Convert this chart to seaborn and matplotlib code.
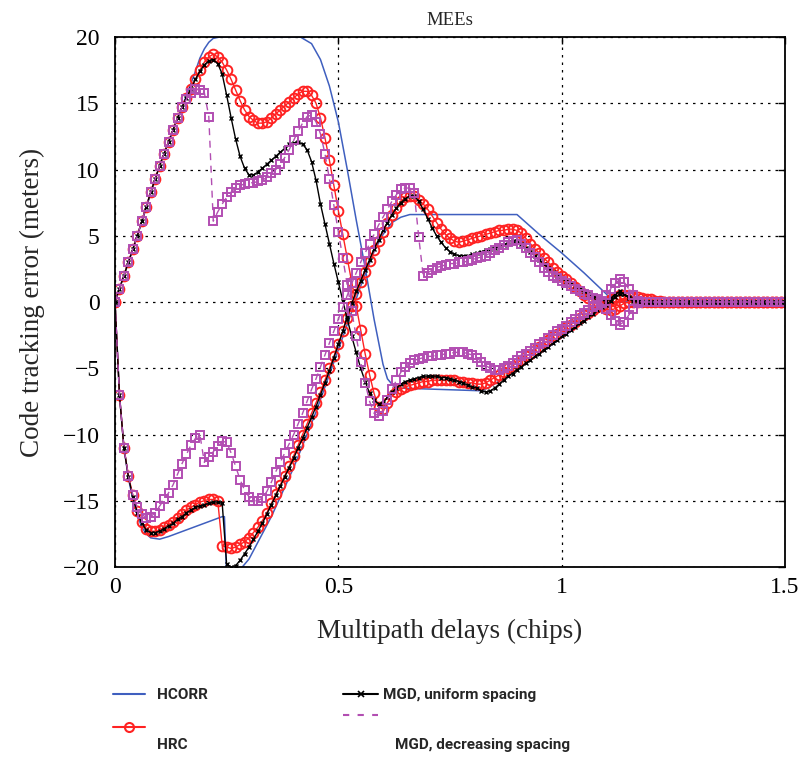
import matplotlib
matplotlib.use("Agg")
import matplotlib.pyplot as plt
from matplotlib.lines import Line2D
from matplotlib import font_manager
import seaborn as sns

# ---------------- data ----------------
delays = [round(0.01 * i, 2) for i in range(151)]          # 0.00 ... 1.50 chips
tail_zero = [0.0, 0.0, 0.0, 0.0, 0.0, 0.0, 0.0, 0.0, 0.0, 0.0, 0.0, 0.0, 0.0,
             0.0, 0.0, 0.0, 0.0, 0.0, 0.0, 0.0, 0.0, 0.0, 0.0, 0.0, 0.0]   # 1.26 ... 1.50

# HRC (red circles)
hrc_pos = [0, 1.0, 2.0, 3.0, 4.0, 5.0, 6.1, 7.2, 8.3, 9.3, 10.3, 11.2, 12.1, 13.0, 13.9, 14.7, 15.4,
           16.1, 16.8, 17.5, 18.1, 18.5, 18.7, 18.5, 18.1, 17.5, 16.8, 16.0, 15.2, 14.5,
           14.0, 13.7, 13.5, 13.5, 13.6, 13.9, 14.2, 14.5, 14.8, 15.1, 15.4, 15.7, 15.9, 15.9,
           15.6, 15.0, 13.9, 12.4, 10.7, 8.8, 6.9, 5.1, 3.3, 1.5, -0.3, -2.1, -3.9, -5.5, -6.9, -7.9, -8.1,
           -7.6, -7.1, -6.8, -6.6, -6.4, -6.3, -6.2, -6.1, -6.0, -6.0, -5.9, -5.9, -5.9, -5.9, -5.9, -5.9,
           -6.0, -6.0, -6.1, -6.1, -6.2, -6.2, -6.1, -5.9, -5.7, -5.5, -5.3, -5.0,
           -4.8, -4.6, -4.4, -4.1, -3.9, -3.6, -3.4, -3.1, -2.9, -2.6, -2.4, -2.2, -1.9, -1.7, -1.5, -1.2,
           -1.0, -0.8, -0.6, -0.4, -0.2, 0.0, 0.2, 0.4, 0.5, 0.5, 0.5, 0.4, 0.4, 0.3, 0.2, 0.2, 0.1, 0.1,
           0.0, 0.0, 0.0]
hrc_neg = [0, -7.0, -11.0, -13.1, -14.6, -15.8, -16.6, -17.1, -17.3, -17.3, -17.2, -17.0, -16.8, -16.6, -16.3, -16.0, -15.7,
           -15.5, -15.3, -15.1, -15.0, -14.9, -14.9, -15.0, -18.4, -18.5, -18.6, -18.5, -18.3, -18.1,
           -17.8, -17.4, -17.0, -16.5, -15.9, -15.2, -14.5, -13.8, -13.1, -12.4, -11.6, -10.8, -10.0, -9.2,
           -8.4, -7.6, -6.8, -5.9, -5.0, -4.1, -3.2, -2.2, -1.2, -0.3, 0.6, 1.5, 2.3, 3.1, 3.9, 4.6, 5.3,
           6.0, 6.6, 7.1, 7.6, 7.9, 8.0, 8.0, 7.7, 7.4, 7.0, 6.5, 6.0, 5.5, 5.1, 4.8, 4.6, 4.5, 4.6, 4.7, 4.8,
           4.9, 5.0, 5.1, 5.2, 5.3, 5.4, 5.4, 5.5,
           5.5, 5.4, 5.2, 4.8, 4.4, 4.0, 3.7, 3.3, 3.0, 2.6, 2.3, 2.0, 1.7, 1.4, 1.1, 0.8, 0.5, 0.3, 0.1,
           -0.1, -0.3, -0.5, -0.6, -0.5, -0.3, -0.1, 0.0, 0.0, 0.0, 0.0, 0.0, 0.0, 0.0, 0.0, 0.0, 0.0, 0.0]

# MGD, uniform spacing (black x)
mgdu_pos = [0, 1.0, 2.0, 3.0, 4.0, 5.0, 6.1, 7.2, 8.3, 9.3, 10.3, 11.2, 12.1, 13.0, 13.9, 14.7, 15.4,
            16.1, 16.8, 17.4, 17.9, 18.2, 18.3, 18.0, 17.2, 15.6, 13.9, 12.3, 11.0, 10.1,
            9.6, 9.6, 9.8, 10.1, 10.4, 10.7, 11.0, 11.3, 11.6, 11.9, 12.0, 12.1, 11.9, 11.5,
            10.6, 9.2, 7.4, 5.9, 4.4, 2.9, 1.5, 0.1, -1.3, -2.6, -3.8, -5.0, -6.0, -6.9, -7.4, -7.7, -7.6,
            -7.2, -6.8, -6.5, -6.2, -6.0, -5.9, -5.8, -5.7, -5.6, -5.6, -5.6, -5.6, -5.7, -5.7, -5.8, -5.9,
            -6.0, -6.1, -6.3, -6.4, -6.5, -6.7, -6.8, -6.7, -6.5, -6.2, -5.9, -5.6,
            -5.4, -5.1, -4.9, -4.6, -4.4, -4.1, -3.9, -3.6, -3.4, -3.1, -2.9, -2.6, -2.4, -2.1, -1.9, -1.6,
            -1.4, -1.1, -0.9, -0.6, -0.4, -0.2, 0.1, 0.4, 0.6, 0.6, 0.4, 0.2, 0.1,
            0.0, 0.0, 0.0, 0.0, 0.0, 0.0, 0.0, 0.0]
mgdu_neg = [0, -7.0, -11.0, -13.2, -14.7, -15.9, -16.7, -17.2, -17.4, -17.4, -17.3, -17.1, -16.9, -16.7, -16.4, -16.2, -15.9,
            -15.7, -15.5, -15.4, -15.3, -15.2, -15.1, -15.1, -15.2, -19.8, -20.0, -19.9, -19.5, -19.0,
            -18.5, -17.9, -17.3, -16.7, -16.0, -15.3, -14.6, -13.9, -13.2, -12.5, -11.8, -11.0, -10.3, -9.5,
            -8.7, -7.9, -7.0, -6.1, -5.2, -4.2, -3.2, -2.2, -1.1, -0.1, 0.8, 1.6, 2.4, 3.2, 4.0, 4.7, 5.4,
            6.0, 6.6, 7.1, 7.5, 7.8, 8.0, 8.0, 7.6, 7.0, 6.3, 5.6, 5.0, 4.5, 4.1, 3.8, 3.6, 3.5, 3.5, 3.5, 3.6,
            3.7, 3.8, 3.9, 4.0, 4.1, 4.2, 4.3, 4.5,
            4.6, 4.6, 4.4, 4.1, 3.8, 3.5, 3.2, 2.9, 2.6, 2.3, 2.0, 1.8, 1.6, 1.4, 1.2, 1.0, 0.8, 0.6, 0.4,
            0.3, 0.2, 0.1, 0.3, 0.6, 0.8, 0.6, 0.3, 0.1, 0.0, 0.0, 0.0, 0.0, 0.0, 0.0, 0.0, 0.0, 0.0]

# MGD, decreasing spacing (purple squares)
mgdd_pos = [0, 1.0, 2.0, 3.0, 4.0, 5.0, 6.1, 7.2, 8.3, 9.3, 10.3, 11.2, 12.1, 13.0, 13.9, 14.7, 15.3,
            15.8, 16.1, 16.0, 15.8, 14.0, 6.1, 6.8, 7.4, 7.9, 8.3, 8.6, 8.8, 8.9,
            9.0, 9.0, 9.1, 9.2, 9.4, 9.7, 10.0, 10.4, 10.9, 11.5, 12.2, 12.9, 13.5, 14.0,
            14.1, 13.6, 12.7, 11.2, 9.3, 7.3, 5.3, 3.3, 1.3, -0.7, -2.6, -4.5, -6.1, -7.5, -8.4, -8.6, -8.2,
            -7.4, -6.6, -5.9, -5.3, -4.9, -4.6, -4.4, -4.3, -4.2, -4.1, -4.1, -4.0, -4.0, -3.9, -3.9, -3.8,
            -3.8, -3.8, -3.9, -4.0, -4.2, -4.5, -4.8, -5.0, -5.1, -5.1, -5.0, -4.8,
            -4.6, -4.4, -4.1, -3.9, -3.7, -3.5, -3.2, -3.0, -2.7, -2.5, -2.2, -2.0, -1.8, -1.5, -1.3, -1.0,
            -0.8, -0.6, -0.4, -0.2, -0.1, -0.5, -1.0, -1.4, -1.7, -1.5, -1.0, -0.5, -0.1,
            0.0, 0.0, 0.0, 0.0, 0.0, 0.0, 0.0, 0.0]
mgdd_neg = [0, -7.0, -11.0, -13.1, -14.6, -15.5, -16.0, -16.3, -16.2, -15.9, -15.4, -14.9, -14.4, -13.8, -13.0, -12.2, -11.5,
            -10.8, -10.3, -10.0, -12.1, -11.7, -11.3, -10.9, -10.5, -10.6, -11.4, -12.4, -13.4, -14.2,
            -14.7, -15.0, -15.0, -14.8, -14.3, -13.6, -12.8, -12.1, -11.4, -10.7, -10.0, -9.2, -8.4, -7.5,
            -6.6, -5.8, -4.9, -4.0, -3.1, -2.2, -1.3, -0.4, 0.5, 1.4, 2.2, 3.0, 3.7, 4.4, 5.1, 5.8, 6.4,
            7.0, 7.6, 8.1, 8.5, 8.6, 8.6, 8.2, 4.9, 2.0, 2.2, 2.4, 2.6, 2.7, 2.8, 2.9, 2.9, 3.0, 3.0, 3.1, 3.2,
            3.3, 3.4, 3.5, 3.7, 3.9, 4.1, 4.3, 4.5,
            4.6, 4.7, 4.4, 4.1, 3.7, 3.4, 3.0, 2.6, 2.3, 2.0, 1.8, 1.6, 1.4, 1.2, 1.0, 0.8, 0.6, 0.5, 0.3,
            0.2, 0.1, 0.5, 1.0, 1.4, 1.7, 1.5, 1.0, 0.5, 0.1, 0.0, 0.0, 0.0, 0.0, 0.0, 0.0, 0.0, 0.0]

# HCORR (blue line, own delay grid)
hcorr_x_pos = [0, 0.05, 0.10, 0.15, 0.18, 0.19, 0.20, 0.21, 0.22, 0.235, 0.415, 0.44, 0.46, 0.48, 0.50,
               0.52, 0.54, 0.56, 0.58, 0.60, 0.61, 0.62, 0.64, 0.82, 0.84, 0.90, 0.95, 1.00, 1.05, 1.10,
               1.12, 1.50]
hcorr_pos = [0, 5.0, 10.3, 14.7, 17.4, 18.4, 19.1, 19.6, 19.9, 20.0, 20.0, 19.5, 18.3, 16.3, 13.6,
             10.0, 6.2, 2.6, -1.3, -4.7, -5.8, -6.2, -6.5, -6.7, -6.4, -5.1, -3.9, -2.7, -1.5, -0.3,
             0.0, 0.0]
hcorr_x_neg = [0, 0.01, 0.02, 0.03, 0.04, 0.05, 0.06, 0.07, 0.08, 0.10, 0.12, 0.16, 0.20, 0.24, 0.245,
               0.25, 0.27, 0.30, 0.35, 0.40, 0.45, 0.50, 0.55, 0.58, 0.60, 0.62, 0.64, 0.66, 0.90, 0.95,
               1.00, 1.05, 1.10, 1.115, 1.50]
hcorr_neg = [0, -7.0, -11.0, -13.3, -14.9, -16.1, -17.0, -17.5, -17.8, -17.9, -17.7, -17.2, -16.7, -16.2, -16.2,
             -20.8, -20.6, -19.4, -16.2, -12.5, -8.3, -3.6, 1.2, 3.8, 5.1, 6.0, 6.4, 6.6, 6.6, 5.1,
             3.7, 2.2, 0.6, 0.0, 0.0]

x_ticks = [0, 0.5, 1, 1.5]
x_tick_labels = ["0", "0.5", "1", "1.5"]
y_ticks = [-20, -15, -10, -5, 0, 5, 10, 15, 20]
series_labels = ["HCORR", "HRC", "MGD, uniform spacing", "MGD, decreasing spacing"]

# ---------------- styling ----------------
BLUE = "#3F5FBF"
RED = "#FF2222"
PURPLE = "#B24EB2"

sns.set_style("white")
plt.rcParams["font.family"] = ["Liberation Serif", "DejaVu Serif"]
plt.rcParams["axes.unicode_minus"] = True

names = {f.name for f in font_manager.fontManager.ttflist}
if "Liberation Sans Narrow" in names:
    leg_family, leg_size = "Liberation Sans Narrow", 12.5
elif "Roboto" in names:
    leg_family, leg_size = "Roboto", 11
else:
    leg_family, leg_size = "DejaVu Sans", 9.5
leg_prop = dict(family=leg_family, weight="bold", size=leg_size)

fig = plt.figure(figsize=(8.0, 7.58), dpi=100)
ax = fig.add_axes([115 / 800, 1 - 567 / 758, 670 / 800, 530 / 758])


def draw(xs, ys, **kw):
    n = min(len(xs), len(ys))
    sns.lineplot(x=list(xs[:n]), y=list(ys[:n]), ax=ax, sort=False,
                 estimator=None, legend=False, **kw)


full = lambda head: head + tail_zero

for xs, ys in [(hcorr_x_pos, hcorr_pos), (hcorr_x_neg, hcorr_neg)]:
    draw(xs, ys, color=BLUE, lw=1.1)

red_kw = dict(color=RED, lw=1.0, marker="o", markersize=7, markerfacecolor="none",
              markeredgecolor=RED, markeredgewidth=1.4)
for ys in (hrc_pos, hrc_neg):
    draw(delays, full(ys), **red_kw)

blk_kw = dict(color="black", lw=1.0, marker="x", markersize=3.5,
              markeredgecolor="black", markeredgewidth=1.0)
for ys in (mgdu_pos, mgdu_neg):
    draw(delays, full(ys), **blk_kw)

pur_kw = dict(color=PURPLE, lw=1.0, linestyle=(0, (5, 4)), marker="s", markersize=6,
              markerfacecolor="none", markeredgecolor=PURPLE, markeredgewidth=1.4)
for ys in (mgdd_pos, mgdd_neg):
    draw(delays, full(ys), **pur_kw)

ax.set_xlim(0, 1.5)
ax.set_ylim(-20, 20)
ax.set_xticks(x_ticks)
ax.set_xticklabels(x_tick_labels)
ax.set_yticks(y_ticks)
ax.set_axisbelow(True)
ax.grid(True, color="black", linestyle=(0, (2, 4)), linewidth=0.9)
ax.tick_params(axis="both", direction="in", length=5, width=1, top=True, right=True,
               labelsize=17, colors="black")
ax.tick_params(axis="y", pad=11)
ax.tick_params(axis="x", pad=7)
for s in ax.spines.values():
    s.set_color("black")
    s.set_linewidth(1.3)

ax.set_xlabel("Multipath delays (chips)", fontsize=19.5, labelpad=15)
ax.set_ylabel("Code tracking error (meters)", fontsize=19.5, labelpad=13)
ax.set_title("MEEs", fontsize=13.5, pad=9)

# ---------------- legend ----------------
h_hcorr = Line2D([], [], color=BLUE, lw=1.5)
h_hrc = Line2D([], [], color=RED, lw=1.5, marker="o", markersize=6.5,
               markerfacecolor="none", markeredgecolor=RED, markeredgewidth=1.5)
h_mgdu = Line2D([], [], color="black", lw=1.5, marker="x", markersize=4,
                markeredgecolor="black", markeredgewidth=1.2)
h_mgdd = Line2D([], [], color=PURPLE, lw=1.5, linestyle=(0, (3, 4)))

fs_px = leg_size * 100 / 72
leg1 = fig.legend([h_hcorr, h_hrc], [series_labels[0], " "], loc="upper left",
                  bbox_to_anchor=(113 / 800, 1 - 688 / 758), frameon=False,
                  handlelength=32 / fs_px, handletextpad=12 / fs_px, labelspacing=1.25,
                  borderpad=0, borderaxespad=0, prop=leg_prop)
leg2 = fig.legend([h_mgdu, h_mgdd], [series_labels[2], " "], loc="upper left",
                  bbox_to_anchor=(343 / 800, 1 - 688 / 758), frameon=False,
                  handlelength=35 / fs_px, handletextpad=5 / fs_px, labelspacing=0.45,
                  borderpad=0, borderaxespad=0, prop=leg_prop)
fig.text(157 / 800, 1 - 745 / 758, series_labels[1], ha="left", va="center", **leg_prop)
fig.text(395 / 800, 1 - 745 / 758, series_labels[3], ha="left", va="center", **leg_prop)

fig.savefig("out.png", dpi=100)
